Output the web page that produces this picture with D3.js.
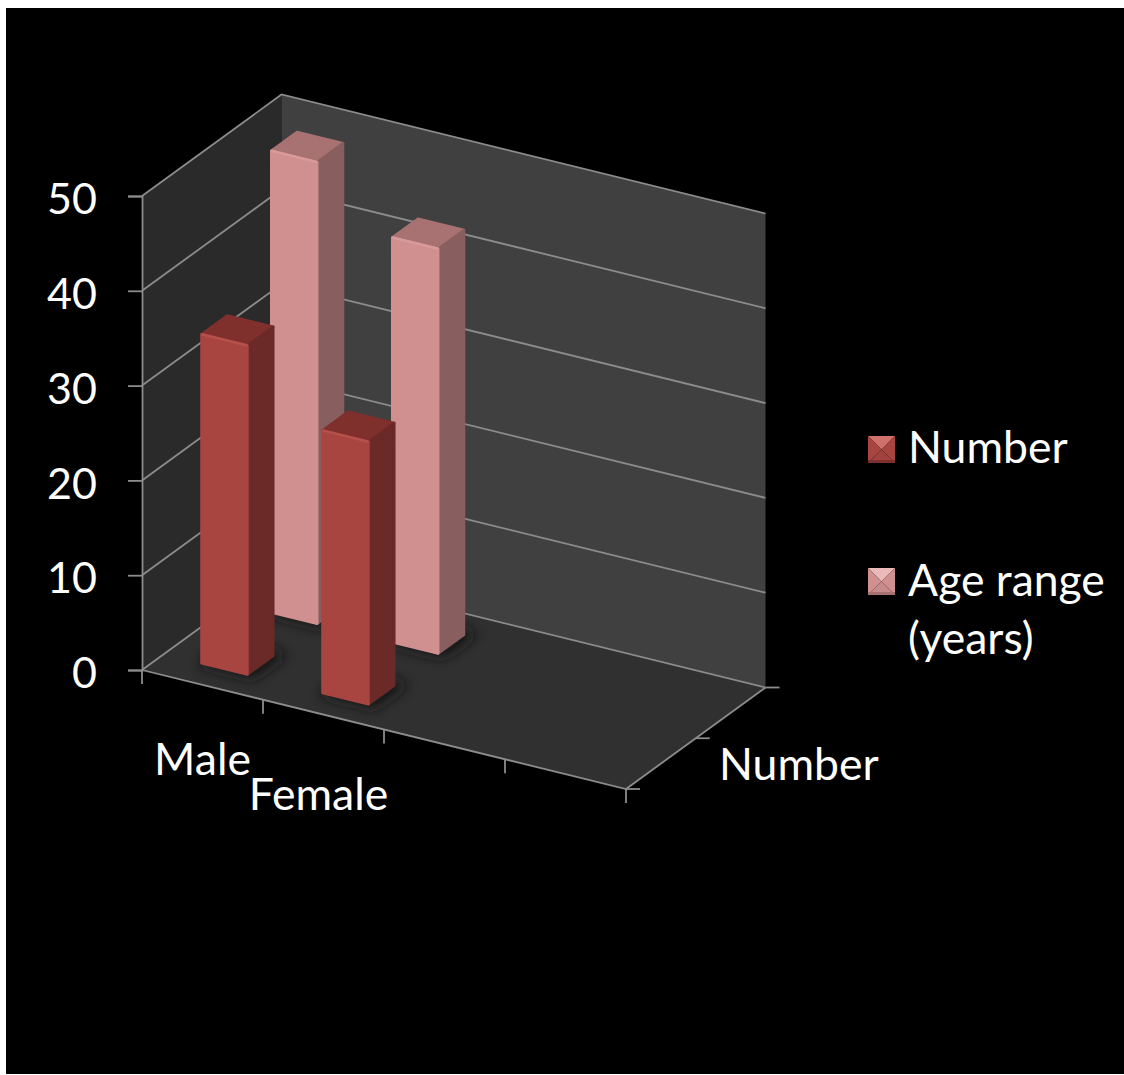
<!DOCTYPE html>
<html>
<head>
<meta charset="utf-8">
<script src="https://cdn.jsdelivr.net/npm/d3@7"></script>
<style>
html,body{margin:0;padding:0;background:#fff;}
svg{display:block;}
text{font-family:Lato,"Open Sans",sans-serif;fill:#fff;}
</style>
</head>
<body>
<svg id="chart" width="1124" height="1075"></svg>
<script>
// Chart values
const categories = ["Male", "Female"];
const categorySlots = [0, 1, 2, 3];
const seriesNames = ["Number", "Age range (years)"];
const numberValues = [34.7, 27.7];
const ageRangeValues = [48.7, 42.7];
const valueTicks = [0, 10, 20, 30, 40, 50];
const depthLabel = "Number";

const svg = d3.select("#chart");

// Page panel
svg.append("rect").attr("x", 6).attr("y", 8).attr("width", 1118).attr("height", 1066).attr("fill", "#000");

// Oblique projection: category, depth and value each map to a screen offset
const originX = 142;
const yScale = d3.scaleLinear().domain([0, 50]).range([670, 196]);
const catToX = d3.scaleLinear().domain([0, 4]).range([0, 484]);
const catToY = d3.scaleLinear().domain([0, 4]).range([0, 119]);
const depthToX = d3.scaleLinear().domain([0, 1]).range([0, 139.5]);
const depthToY = d3.scaleLinear().domain([0, 1]).range([0, -101.5]);
const project = (c, d, v) => [originX + catToX(c) + depthToX(d), yScale(v) + catToY(c) + depthToY(d)];

// Band positions of bars inside the floor
const catBand = d3.scaleBand().domain(categorySlots).range([0, 4]).paddingInner(0.62).paddingOuter(0.31);
const depthBand = d3.scaleBand().domain([0, 1]).range([0, 1]).paddingInner(0.63).paddingOuter(0.315);

const poly = pts => d3.line()(pts) + "Z";
const defs = svg.append("defs");
defs.append("filter").attr("id", "soft").attr("x", "-60%").attr("y", "-60%").attr("width", "220%").attr("height", "220%")
  .append("feGaussianBlur").attr("stdDeviation", 7);

const grid = "#8c8c8c";
const walls = svg.append("g");
walls.append("path").attr("d", poly([project(0,0,0), project(0,1,0), project(0,1,50), project(0,0,50)])).attr("fill", "#2a2a2a");
walls.append("path").attr("d", poly([project(0,1,0), project(4,1,0), project(4,1,50), project(0,1,50)])).attr("fill", "#404040");
walls.append("path").attr("d", poly([project(0,0,0), project(4,0,0), project(4,1,0), project(0,1,0)])).attr("fill", "#303030");

// Gridlines run along the side wall and the back wall
const gridG = svg.append("g").attr("fill", "none").attr("stroke", grid).attr("stroke-width", 1.8);
valueTicks.forEach(v => {
  gridG.append("path").attr("d", d3.line()([project(0,0,v), project(0,1,v), project(4,1,v)]));
});
gridG.append("path").attr("d", d3.line()([project(0,0,0), project(4,0,0), project(4,1,0)]));

// Value axis
const yAxis = d3.axisLeft(yScale).tickValues(valueTicks).tickSize(14).tickPadding(31);
const yG = svg.append("g").attr("transform", `translate(${originX},0)`).call(yAxis);
yG.select(".domain").attr("stroke", grid).attr("stroke-width", 1.8);
yG.selectAll(".tick line").attr("stroke", grid).attr("stroke-width", 1.8);
yG.selectAll(".tick text").style("font-size", "43px").attr("dy", "0.41em").style("fill", "#fff");

// Category and depth axis tick marks
const tickG = svg.append("g").attr("stroke", grid).attr("stroke-width", 1.8);
d3.range(0, 5).forEach(c => {
  const [x, y] = project(c, 0, 0);
  tickG.append("line").attr("x1", x).attr("x2", x).attr("y1", y).attr("y2", y + 14);
});
[0, 0.5, 1].forEach(d => {
  const [x, y] = project(4, d, 0);
  tickG.append("line").attr("x1", x).attr("x2", x + 14).attr("y1", y).attr("y2", y);
});

// Soft contact shadows on the floor
const barPalette = [
  { front: "#a94541", side: "#6b2a28", top: "#7f302d", edge: "#b5504b" },
  { front: "#d09090", side: "#885e5e", top: "#a87272", edge: "#d99a9a" }
];
const allBars = [];
[ageRangeValues, numberValues].forEach((vals, k) => {
  const s = 1 - k;
  vals.forEach((v, i) => allBars.push({ s, i, v }));
});
const shadows = svg.append("g").attr("filter", "url(#soft)");
allBars.forEach(b => {
  const c0 = catBand(b.i), c1 = c0 + catBand.bandwidth();
  const d0 = depthBand(b.s), d1 = d0 + depthBand.bandwidth();
  shadows.append("path")
    .attr("d", poly([project(c0,d0,0), project(c1,d0,0), project(c1,d1,0), project(c0,d1,0)]))
    .attr("transform", "translate(5,0)")
    .attr("stroke", "#181818").attr("stroke-width", 8).attr("fill", "#181818");
});

// Bars, far series first so the near series overlaps it
const barsG = svg.append("g").attr("stroke-linejoin", "round");
allBars.forEach(b => {
  const col = barPalette[b.s];
  const c0 = catBand(b.i), c1 = c0 + catBand.bandwidth();
  const d0 = depthBand(b.s), d1 = d0 + depthBand.bandwidth();
  const g = barsG.append("g");
  const face = (pts, fill) => g.append("path").attr("d", poly(pts)).attr("fill", fill).attr("stroke", fill).attr("stroke-width", 2.5);
  face([project(c0,d0,b.v), project(c1,d0,b.v), project(c1,d1,b.v), project(c0,d1,b.v)], col.top);
  face([project(c1,d0,0), project(c1,d1,0), project(c1,d1,b.v), project(c1,d0,b.v)], col.side);
  face([project(c0,d0,0), project(c1,d0,0), project(c1,d0,b.v), project(c0,d0,b.v)], col.front);
  // Bevel highlight along the front top edge
  g.append("path").attr("d", d3.line()([project(c0,d0,b.v), project(c1,d0,b.v)]))
    .attr("stroke", col.edge).attr("stroke-width", 2.5).attr("fill", "none");
});

// Category labels, staggered on two rows
const labelSize = "44.5px";
const catLabelRow = [{ dx: 0, dy: 90 }, { dx: -5, dy: 95 }];
svg.append("g").selectAll("text").data(categories).join("text")
  .attr("x", (d, i) => project(i + 0.5, 0, 0)[0] + catLabelRow[i].dx)
  .attr("y", (d, i) => project(i + 0.5, 0, 0)[1] + catLabelRow[i].dy)
  .attr("text-anchor", "middle").style("font-size", labelSize).text(d => d);

// Depth axis label
svg.append("text").attr("x", 719).attr("y", 780).style("font-size", labelSize).text(depthLabel);

// Legend with bevelled swatches
const legendRows = [
  { s: 0, y: 436, lines: [[seriesNames[0], 463]] },
  { s: 1, y: 568, lines: [["Age range", 596], ["(years)", 654]] }
];
const swatchSize = 27;
legendRows.forEach(r => {
  const col = barPalette[r.s], x0 = 868, y0 = r.y, x1 = x0 + swatchSize, y1 = y0 + swatchSize;
  const cx = x0 + swatchSize / 2, cy = y0 + swatchSize / 2;
  const g = svg.append("g");
  const tri = (pts, fill) => g.append("path").attr("d", poly(pts)).attr("fill", fill);
  const light = r.s === 0 ? "#d0706a" : "#eab9b9";
  const low = r.s === 0 ? "#a2423e" : "#c88b8b";
  const rim = r.s === 0 ? "#7d312e" : "#a87272";
  tri([[x0,y0],[x1,y0],[cx,cy]], light);
  tri([[x0,y0],[x0,y1],[cx,cy]], col.front);
  tri([[x1,y0],[x1,y1],[cx,cy]], col.front);
  tri([[x0,y1],[x1,y1],[cx,cy]], low);
  g.append("rect").attr("x", x0).attr("y", y1 - 3).attr("width", swatchSize).attr("height", 3).attr("fill", rim);
  r.lines.forEach(([t, y]) => svg.append("text").attr("x", 908).attr("y", y).style("font-size", labelSize).text(t));
});
</script>
</body>
</html>
